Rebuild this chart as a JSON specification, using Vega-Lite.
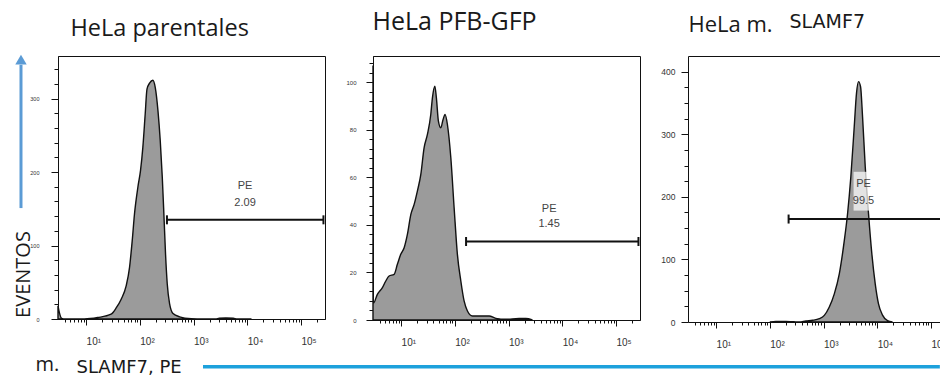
{
  "$schema": "https://vega.github.io/schema/vega-lite/v6.json",
  "usermeta": {"embedOptions": {"actions": false}},
  "background": "white",
  "padding": {"left": 12, "top": 8, "right": 0, "bottom": 0},
  "spacing": 48,
  "bounds": "flush",
  "config": {
    "view": {"stroke": "#111", "strokeWidth": 1},
    "axis": {"grid": false, "domainColor": "#111", "tickColor": "#111", "labelFont": "Liberation Sans", "labelColor": "#333", "titleFontWeight": "normal", "titleColor": "#1a1a1a"}
  },
  "datasets": {
    "hist1": [
      {"fl": 3, "n": 18}, {"fl": 3.2, "n": 8}, {"fl": 3.5, "n": 1}, {"fl": 4, "n": 0}, {"fl": 9.3, "n": 0},
      {"fl": 16.5, "n": 2}, {"fl": 29.2, "n": 6.5}, {"fl": 36.3, "n": 15}, {"fl": 45, "n": 27}, {"fl": 55.7, "n": 45},
      {"fl": 64.3, "n": 70}, {"fl": 72.1, "n": 106}, {"fl": 79.6, "n": 143}, {"fl": 92.3, "n": 180}, {"fl": 103, "n": 202},
      {"fl": 114, "n": 234}, {"fl": 126, "n": 279}, {"fl": 136, "n": 313}, {"fl": 152, "n": 321}, {"fl": 175, "n": 325},
      {"fl": 194, "n": 315}, {"fl": 218, "n": 283}, {"fl": 240, "n": 243}, {"fl": 262, "n": 193}, {"fl": 282, "n": 139},
      {"fl": 301, "n": 89}, {"fl": 324, "n": 48}, {"fl": 358, "n": 21}, {"fl": 415, "n": 7.5}, {"fl": 551, "n": 3},
      {"fl": 910, "n": 0.5}, {"fl": 1500, "n": 0}, {"fl": 2600, "n": 0}, {"fl": 3000, "n": 1.2}, {"fl": 4000, "n": 1.5},
      {"fl": 5500, "n": 1}, {"fl": 6500, "n": 0}, {"fl": 12000, "n": 0}
    ],
    "hist2": [
      {"fl": 3, "n": 107}, {"fl": 3.04, "n": 7}, {"fl": 3.62, "n": 10.8}, {"fl": 4.49, "n": 13.6}, {"fl": 5.19, "n": 16.4},
      {"fl": 5.98, "n": 18.5}, {"fl": 7.41, "n": 19.2}, {"fl": 8.53, "n": 23.4}, {"fl": 9.86, "n": 27.6}, {"fl": 11.4, "n": 30.4},
      {"fl": 13.1, "n": 36}, {"fl": 15.2, "n": 44.4}, {"fl": 17.5, "n": 48.6}, {"fl": 20.1, "n": 54.2}, {"fl": 23.3, "n": 61.2},
      {"fl": 26.8, "n": 72.4}, {"fl": 30.9, "n": 78}, {"fl": 35.7, "n": 86.4}, {"fl": 38.3, "n": 93.4}, {"fl": 42.5, "n": 98.3},
      {"fl": 45.4, "n": 93.4}, {"fl": 49.5, "n": 83.6}, {"fl": 54.8, "n": 80.8}, {"fl": 60.5, "n": 84.3}, {"fl": 65.9, "n": 86.4},
      {"fl": 72.8, "n": 82.2}, {"fl": 84.3, "n": 68.2}, {"fl": 97.1, "n": 47.2}, {"fl": 111.7, "n": 27.6}, {"fl": 129.4, "n": 16.4},
      {"fl": 148.9, "n": 8}, {"fl": 171.8, "n": 3.8}, {"fl": 212.8, "n": 1.7}, {"fl": 283.8, "n": 1.7}, {"fl": 435.5, "n": 1.7},
      {"fl": 580.8, "n": 0.7}, {"fl": 891, "n": 0.3}, {"fl": 1574, "n": 0.6}, {"fl": 2099, "n": 0.6}, {"fl": 2786, "n": 0}
    ],
    "hist3": [
      {"fl": 100, "n": 0}, {"fl": 130, "n": 0.8}, {"fl": 200, "n": 1}, {"fl": 260, "n": 0.5}, {"fl": 320, "n": 0},
      {"fl": 355, "n": 0}, {"fl": 471, "n": 1.7}, {"fl": 627, "n": 2.7}, {"fl": 836, "n": 5.3}, {"fl": 1035, "n": 10.6},
      {"fl": 1282, "n": 24}, {"fl": 1589, "n": 45}, {"fl": 1968, "n": 77}, {"fl": 2438, "n": 130}, {"fl": 2805, "n": 173},
      {"fl": 3228, "n": 232}, {"fl": 3733, "n": 312}, {"fl": 4121, "n": 366}, {"fl": 4487, "n": 384}, {"fl": 4898, "n": 376},
      {"fl": 5333, "n": 328}, {"fl": 5984, "n": 248}, {"fl": 6887, "n": 173}, {"fl": 7943, "n": 109}, {"fl": 9183, "n": 61},
      {"fl": 10568, "n": 29}, {"fl": 12560, "n": 11}, {"fl": 15560, "n": 2}, {"fl": 19275, "n": 0}
    ],
    "gates": [
      {"panel": 1, "start": 320, "end": 262144, "level": 135, "labelX": 9100, "label": "PE\n2.09"},
      {"panel": 2, "start": 162, "end": 262144, "level": 33, "labelX": 5700, "label": "PE\n1.45"},
      {"panel": 3, "start": 224, "end": 154000, "level": 164.5, "labelX": 5560, "label": "PE\n99.5"}
    ]
  },
  "hconcat": [
    {
      "width": 267,
      "height": 263,
      "resolve": {"axis": {"x": "independent", "y": "independent"}},
      "layer": [
        {
          "data": {"name": "hist1"},
          "mark": {"type": "area", "interpolate": "monotone", "fill": "#9b9b9b", "stroke": "#111", "strokeWidth": 1.4},
          "encoding": {
            "x": {"field": "fl", "type": "quantitative", "scale": {"type": "log", "domain": [3, 280000], "nice": false},
              "axis": {"orient": "bottom", "values": [4,5,6,7,8,9,10,20,30,40,50,60,70,80,90,100,200,300,400,500,600,700,800,900,1000,2000,3000,4000,5000,6000,7000,8000,9000,10000,20000,30000,40000,50000,60000,70000,80000,90000,100000,200000],
                "labelExpr": "datum.value == 10 ? '10¹' : datum.value == 100 ? '10²' : datum.value == 1000 ? '10³' : datum.value == 10000 ? '10⁴' : datum.value == 100000 ? '10⁵' : ''",
                "tickSize": {"condition": {"test": "indexof([10,100,1000,10000,100000], datum.value) >= 0", "value": 6}, "value": 3},
                "labelFontSize": 10, "labelAlign": "left", "labelPadding": 11, "labelOverlap": false, "labelFlush": false,
                "title": "SLAMF7, PE", "titleX": 18, "titleY": 53, "titleAlign": "left", "titleBaseline": "alphabetic", "titleFont": "DejaVu Sans", "titleFontSize": 18}},
            "y": {"field": "n", "type": "quantitative", "scale": {"domain": [0, 358], "nice": false},
              "axis": {"orient": "left", "values": [0,20,40,60,80,100,120,140,160,180,200,220,240,260,280,300,320,340],
                "labelExpr": "datum.value % 100 == 0 ? datum.label : ''",
                "tickSize": {"condition": {"test": "datum.value % 100 == 0", "value": 7}, "value": 4},
                "labelFontSize": 5.5, "labelPadding": 12, "labelOverlap": false, "labelFlush": false,
                "title": "EVENTOS", "titleX": -29, "titleY": 218, "titleAngle": 270, "titleAlign": "center", "titleBaseline": "alphabetic", "titleFont": "Open Sans", "titleFontSize": 20}}
          }
        },
        {
          "data": {"name": "gates"},
          "transform": [{"filter": "datum.panel == 1"}],
          "mark": {"type": "rule", "color": "#111", "strokeWidth": 2},
          "encoding": {
            "x": {"field": "start", "type": "quantitative", "scale": {"type": "log", "domain": [3, 280000], "nice": false},
              "axis": {"orient": "top", "domain": false, "ticks": false, "labels": false, "title": "HeLa parentales", "titleX": 12, "titleY": -21, "titleAlign": "left", "titleBaseline": "alphabetic", "titleFont": "Open Sans", "titleFontSize": 23.5}},
            "x2": {"field": "end"},
            "y": {"field": "level", "type": "quantitative", "scale": {"domain": [0, 358], "nice": false},
              "axis": {"orient": "right", "domain": false, "ticks": false, "labels": false, "title": "m.", "titleX": -290, "titleY": 314, "titleAngle": 0, "titleAlign": "left", "titleBaseline": "alphabetic", "titleFont": "Open Sans", "titleFontSize": 20}}
          }
        },
        {
          "data": {"name": "gates"},
          "transform": [{"filter": "datum.panel == 1"}],
          "mark": {"type": "tick", "orient": "vertical", "color": "#111", "size": 9, "thickness": 2, "opacity": 1},
          "encoding": {
            "x": {"field": "start", "type": "quantitative", "scale": {"type": "log", "domain": [3, 280000], "nice": false}, "axis": null},
            "y": {"field": "level", "type": "quantitative", "scale": {"domain": [0, 358], "nice": false}, "axis": null}
          }
        },
        {
          "data": {"name": "gates"},
          "transform": [{"filter": "datum.panel == 1"}],
          "mark": {"type": "tick", "orient": "vertical", "color": "#111", "size": 9, "thickness": 2, "opacity": 1},
          "encoding": {
            "x": {"field": "end", "type": "quantitative", "scale": {"type": "log", "domain": [3, 280000], "nice": false}, "axis": null},
            "y": {"field": "level", "type": "quantitative", "scale": {"domain": [0, 358], "nice": false}, "axis": null}
          }
        },
        {
          "data": {"name": "gates"},
          "transform": [{"filter": "datum.panel == 1"}],
          "mark": {"type": "text", "font": "Liberation Sans", "fontSize": 11, "color": "#444", "lineBreak": "\n", "lineHeight": 17, "align": "center", "baseline": "bottom", "dy": -29},
          "encoding": {
            "x": {"field": "labelX", "type": "quantitative", "scale": {"type": "log", "domain": [3, 280000], "nice": false}, "axis": null},
            "y": {"field": "level", "type": "quantitative", "scale": {"domain": [0, 358], "nice": false}, "axis": null},
            "text": {"field": "label"}
          }
        },
        {
          "data": {"values": [{}]},
          "mark": {"type": "rule", "color": "#5b9bd5", "strokeWidth": 3},
          "encoding": {
            "x": {"datum": 0.614, "type": "quantitative", "scale": {"type": "log", "domain": [3, 280000], "nice": false}, "axis": null},
            "y": {"datum": 151, "type": "quantitative", "scale": {"domain": [0, 358], "nice": false}, "axis": null},
            "y2": {"datum": 346}
          }
        },
        {
          "data": {"values": [{}]},
          "mark": {"type": "point", "shape": "triangle-up", "filled": true, "color": "#5b9bd5", "size": 130, "opacity": 1},
          "encoding": {
            "x": {"datum": 0.614, "type": "quantitative", "scale": {"type": "log", "domain": [3, 280000], "nice": false}, "axis": null},
            "y": {"datum": 353, "type": "quantitative", "scale": {"domain": [0, 358], "nice": false}, "axis": null}
          }
        },
        {
          "data": {"values": [{}]},
          "mark": {"type": "rule", "color": "#1da1dc", "strokeWidth": 3.5},
          "encoding": {
            "x": {"datum": 1500, "type": "quantitative", "scale": {"type": "log", "domain": [3, 280000], "nice": false}, "axis": null},
            "x2": {"datum": 78000000000000000},
            "y": {"datum": -65, "type": "quantitative", "scale": {"domain": [0, 358], "nice": false}, "axis": null}
          }
        }
      ]
    },
    {
      "width": 267,
      "height": 264,
      "resolve": {"axis": {"x": "independent", "y": "independent"}},
      "layer": [
        {
          "data": {"name": "hist2"},
          "mark": {"type": "area", "interpolate": "monotone", "fill": "#9b9b9b", "stroke": "#111", "strokeWidth": 1.4},
          "encoding": {
            "x": {"field": "fl", "type": "quantitative", "scale": {"type": "log", "domain": [3, 280000], "nice": false},
              "axis": {"orient": "bottom", "values": [4,5,6,7,8,9,10,20,30,40,50,60,70,80,90,100,200,300,400,500,600,700,800,900,1000,2000,3000,4000,5000,6000,7000,8000,9000,10000,20000,30000,40000,50000,60000,70000,80000,90000,100000,200000],
                "labelExpr": "datum.value == 10 ? '10¹' : datum.value == 100 ? '10²' : datum.value == 1000 ? '10³' : datum.value == 10000 ? '10⁴' : datum.value == 100000 ? '10⁵' : ''",
                "tickSize": {"condition": {"test": "indexof([10,100,1000,10000,100000], datum.value) >= 0", "value": 6}, "value": 3},
                "labelFontSize": 10, "labelAlign": "left", "labelPadding": 11, "labelOverlap": false, "labelFlush": false, "title": null}},
            "y": {"field": "n", "type": "quantitative", "scale": {"domain": [0, 111], "nice": false},
              "axis": {"orient": "left", "values": [0,4,8,12,16,20,24,28,32,36,40,44,48,52,56,60,64,68,72,76,80,84,88,92,96,100,104,108],
                "labelExpr": "datum.value % 20 == 0 ? datum.label : ''",
                "tickSize": {"condition": {"test": "datum.value % 20 == 0", "value": 7}, "value": 4},
                "labelFontSize": 6, "labelPadding": 10, "labelOverlap": false, "labelFlush": false, "title": null}}
          }
        },
        {
          "data": {"name": "gates"},
          "transform": [{"filter": "datum.panel == 2"}],
          "mark": {"type": "rule", "color": "#111", "strokeWidth": 2},
          "encoding": {
            "x": {"field": "start", "type": "quantitative", "scale": {"type": "log", "domain": [3, 280000], "nice": false},
              "axis": {"orient": "top", "domain": false, "ticks": false, "labels": false, "title": "HeLa PFB-GFP", "titleX": -1, "titleY": -27, "titleAlign": "left", "titleBaseline": "alphabetic", "titleFont": "Open Sans", "titleFontSize": 25}},
            "x2": {"field": "end"},
            "y": {"field": "level", "type": "quantitative", "scale": {"domain": [0, 111], "nice": false}, "axis": null}
          }
        },
        {
          "data": {"name": "gates"},
          "transform": [{"filter": "datum.panel == 2"}],
          "mark": {"type": "tick", "orient": "vertical", "color": "#111", "size": 9, "thickness": 2, "opacity": 1},
          "encoding": {
            "x": {"field": "start", "type": "quantitative", "scale": {"type": "log", "domain": [3, 280000], "nice": false}, "axis": null},
            "y": {"field": "level", "type": "quantitative", "scale": {"domain": [0, 111], "nice": false}, "axis": null}
          }
        },
        {
          "data": {"name": "gates"},
          "transform": [{"filter": "datum.panel == 2"}],
          "mark": {"type": "tick", "orient": "vertical", "color": "#111", "size": 9, "thickness": 2, "opacity": 1},
          "encoding": {
            "x": {"field": "end", "type": "quantitative", "scale": {"type": "log", "domain": [3, 280000], "nice": false}, "axis": null},
            "y": {"field": "level", "type": "quantitative", "scale": {"domain": [0, 111], "nice": false}, "axis": null}
          }
        },
        {
          "data": {"name": "gates"},
          "transform": [{"filter": "datum.panel == 2"}],
          "mark": {"type": "text", "font": "Liberation Sans", "fontSize": 11, "color": "#444", "lineBreak": "\n", "lineHeight": 15, "align": "center", "baseline": "bottom", "dy": -28},
          "encoding": {
            "x": {"field": "labelX", "type": "quantitative", "scale": {"type": "log", "domain": [3, 280000], "nice": false}, "axis": null},
            "y": {"field": "level", "type": "quantitative", "scale": {"domain": [0, 111], "nice": false}, "axis": null},
            "text": {"field": "label"}
          }
        }
      ]
    },
    {
      "width": 253,
      "height": 266,
      "view": {"stroke": null},
      "resolve": {"axis": {"x": "independent", "y": "independent"}},
      "layer": [
        {
          "data": {"name": "hist3"},
          "mark": {"type": "area", "interpolate": "monotone", "fill": "#9b9b9b", "stroke": "#111", "strokeWidth": 1.4},
          "encoding": {
            "x": {"field": "fl", "type": "quantitative", "scale": {"type": "log", "domain": [3, 154000], "nice": false},
              "axis": {"orient": "bottom", "values": [4,5,6,7,8,9,10,20,30,40,50,60,70,80,90,100,200,300,400,500,600,700,800,900,1000,2000,3000,4000,5000,6000,7000,8000,9000,10000,20000,30000,40000,50000,60000,70000,80000,90000,100000],
                "labelExpr": "datum.value == 10 ? '10¹' : datum.value == 100 ? '10²' : datum.value == 1000 ? '10³' : datum.value == 10000 ? '10⁴' : datum.value == 100000 ? '10⁵' : ''",
                "tickSize": {"condition": {"test": "indexof([10,100,1000,10000,100000], datum.value) >= 0", "value": 6}, "value": 3},
                "labelFontSize": 10, "labelAlign": "left", "labelPadding": 11, "labelOverlap": false, "labelFlush": false, "title": null}},
            "y": {"field": "n", "type": "quantitative", "scale": {"domain": [0, 425], "nice": false},
              "axis": {"orient": "left", "values": [0,25,50,75,100,125,150,175,200,225,250,275,300,325,350,375,400],
                "labelExpr": "datum.value % 100 == 0 ? datum.label : ''",
                "tickSize": {"condition": {"test": "datum.value % 100 == 0", "value": 7}, "value": 4},
                "labelFontSize": 8.5, "labelPadding": 6, "labelOverlap": false, "labelFlush": false, "title": null}}
          }
        },
        {
          "data": {"values": [{}]},
          "mark": {"type": "rect", "color": "#ffffff", "opacity": 0.72},
          "encoding": {
            "x": {"datum": 3630, "type": "quantitative", "scale": {"type": "log", "domain": [3, 154000], "nice": false}, "axis": null},
            "x2": {"datum": 7500},
            "y": {"datum": 178, "type": "quantitative", "scale": {"domain": [0, 425], "nice": false}, "axis": null},
            "y2": {"datum": 240}
          }
        },
        {
          "data": {"name": "gates"},
          "transform": [{"filter": "datum.panel == 3"}],
          "mark": {"type": "rule", "color": "#111", "strokeWidth": 2},
          "encoding": {
            "x": {"field": "start", "type": "quantitative", "scale": {"type": "log", "domain": [3, 154000], "nice": false},
              "axis": {"orient": "top", "domain": true, "ticks": false, "labels": false, "title": "HeLa m.", "titleX": 0, "titleY": -25, "titleAlign": "left", "titleBaseline": "alphabetic", "titleFont": "Open Sans", "titleFontSize": 22}},
            "x2": {"field": "end"},
            "y": {"field": "level", "type": "quantitative", "scale": {"domain": [0, 425], "nice": false},
              "axis": {"orient": "right", "domain": false, "ticks": false, "labels": false, "title": "SLAMF7", "titleX": -152, "titleY": -29, "titleAngle": 0, "titleAlign": "left", "titleBaseline": "alphabetic", "titleFont": "DejaVu Sans", "titleFontSize": 19}}
          }
        },
        {
          "data": {"name": "gates"},
          "transform": [{"filter": "datum.panel == 3"}],
          "mark": {"type": "tick", "orient": "vertical", "color": "#111", "size": 9, "thickness": 2, "opacity": 1},
          "encoding": {
            "x": {"field": "start", "type": "quantitative", "scale": {"type": "log", "domain": [3, 154000], "nice": false}, "axis": null},
            "y": {"field": "level", "type": "quantitative", "scale": {"domain": [0, 425], "nice": false}, "axis": null}
          }
        },
        {
          "data": {"name": "gates"},
          "transform": [{"filter": "datum.panel == 3"}],
          "mark": {"type": "text", "font": "Liberation Sans", "fontSize": 11, "color": "#444", "lineBreak": "\n", "lineHeight": 17, "align": "center", "baseline": "bottom", "dy": -30},
          "encoding": {
            "x": {"field": "labelX", "type": "quantitative", "scale": {"type": "log", "domain": [3, 154000], "nice": false}, "axis": null},
            "y": {"field": "level", "type": "quantitative", "scale": {"domain": [0, 425], "nice": false}, "axis": null},
            "text": {"field": "label"}
          }
        }
      ]
    }
  ]
}
